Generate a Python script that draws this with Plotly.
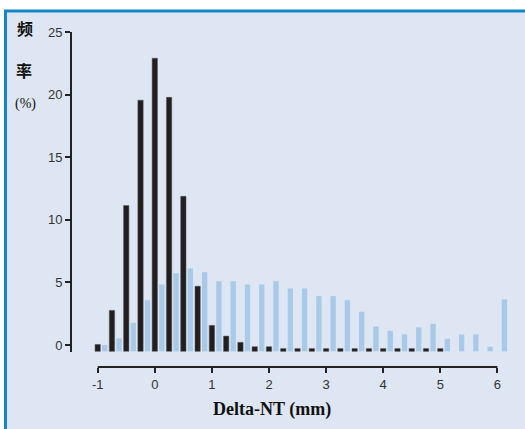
import plotly.graph_objects as go

# ---- data ----
bins = [-1, -0.75, -0.5, -0.25, 0, 0.25, 0.5, 0.75, 1, 1.25, 1.5, 1.75, 2, 2.25, 2.5,
        2.75, 3, 3.25, 3.5, 3.75, 4, 4.25, 4.5, 4.75, 5, 5.25, 5.5, 5.75, 6]
black_vals = [0.05, 2.77, 11.14, 19.56, 22.91, 19.78, 11.88, 4.70, 1.57, 0.72, 0.22, -0.13,
              -0.13, -0.28, -0.28, -0.28, -0.28, -0.28, -0.28, -0.28, -0.28, -0.28, -0.28,
              -0.28, -0.28, None, None, None, None]
blue_vals = [0.0, 0.53, 1.78, 3.59, 4.84, 5.74, 6.12, 5.82, 5.10, 5.10, 4.84, 4.84, 5.10,
             4.52, 4.52, 3.91, 3.91, 3.59, 2.67, 1.49, 1.14, 0.85, 1.41, 1.70, 0.50, 0.85,
             0.85, -0.13, 3.64]
x_ticks = [-1, 0, 1, 2, 3, 4, 5, 6]
y_ticks = [0, 5, 10, 15, 20, 25]

# ---- style ----
BASE = -0.5
BAR_W = 0.093
BLUE_SHIFT = 0.123
W, H = 525, 429
L, R, T, B = 71, 13, 32, 62
PW, PH = W - L - R, H - T - B
BG = "#dde6f2"
FRAME = "#1286c8"

def px_x(p):
    return (p - L) / PW

def px_y(p):
    return (H - B - p) / PH

fig = go.Figure()
fig.add_trace(go.Bar(
    x=bins, y=[None if v is None else v - BASE for v in black_vals], base=BASE,
    width=BAR_W, offset=-BAR_W / 2, marker=dict(color="#231f20", line=dict(color="#555", width=0.5)),
    showlegend=False, hoverinfo="skip"))
fig.add_trace(go.Bar(
    x=bins, y=[None if v is None else v - BASE for v in blue_vals], base=BASE,
    width=BAR_W, offset=BLUE_SHIFT - BAR_W / 2, marker=dict(color="#a8c9e7", line=dict(width=0)),
    showlegend=False, hoverinfo="skip"))

x_lo = -1 - (97.7 - L) / 57.1
x_hi = x_lo + PW / 57.1

fig.update_layout(
    width=W, height=H, autosize=False,
    margin=dict(l=L, r=R, t=T, b=B, pad=0),
    paper_bgcolor="white", plot_bgcolor=BG,
    barmode="overlay",
    xaxis=dict(range=[x_lo, x_hi], tickvals=x_ticks, ticktext=[str(t) for t in x_ticks],
               showgrid=False, zeroline=False, showline=False,
               ticks="outside", ticklen=5, tickwidth=2, tickcolor="#222",
               tickfont=dict(family="Liberation Sans, Arial", size=13, color="#333")),
    yaxis=dict(range=[-1.75, 25], tickvals=y_ticks, ticktext=[str(t) for t in y_ticks],
               showgrid=False, zeroline=False, showline=False,
               ticks="outside", ticklen=5, tickwidth=2, tickcolor="#222",
               tickfont=dict(family="Liberation Sans, Arial", size=13, color="#333")),
    shapes=[
        dict(type="rect", xref="paper", yref="paper", layer="below",
             x0=px_x(5.5), x1=px_x(W), y0=px_y(11), y1=px_y(H),
             fillcolor=BG, line=dict(width=0)),
        dict(type="line", xref="paper", yref="paper", layer="below",
             x0=px_x(4), x1=px_x(W), y0=px_y(11), y1=px_y(11),
             line=dict(color=FRAME, width=3)),
        dict(type="line", xref="paper", yref="paper", layer="below",
             x0=px_x(5.5), x1=px_x(5.5), y0=px_y(10), y1=px_y(H),
             line=dict(color=FRAME, width=3)),
        dict(type="line", xref="paper", yref="y", x0=0, x1=0, y0=-0.55, y1=25,
             line=dict(color="#222", width=2)),
        dict(type="line", xref="x", yref="paper", x0=-1, x1=6, y0=0, y1=0,
             line=dict(color="#222", width=2)),
    ],
    annotations=[
        dict(text="<b>频</b>", xref="paper", yref="paper", x=px_x(24.5), y=px_y(28.5),
             xanchor="center", yanchor="middle", showarrow=False,
             font=dict(family="Noto Sans CJK SC", size=16, color="#111")),
        dict(text="<b>率</b>", xref="paper", yref="paper", x=px_x(24), y=px_y(69.5),
             xanchor="center", yanchor="middle", showarrow=False,
             font=dict(family="Noto Sans CJK SC", size=16, color="#111")),
        dict(text="(%)", xref="paper", yref="paper", x=px_x(25), y=px_y(104),
             xanchor="center", yanchor="middle", showarrow=False,
             font=dict(family="Liberation Serif", size=14, color="#111")),
        dict(text="<b>Delta-NT (mm)</b>", xref="paper", yref="paper", x=px_x(272), y=px_y(410),
             xanchor="center", yanchor="middle", showarrow=False,
             font=dict(family="Liberation Serif", size=18, color="#111")),
    ],
)

fig.write_html("out.html", config={"displayModeBar": False, "staticPlot": True},
               post_script="document.body.style.margin='0px';document.body.style.overflow='hidden';")
